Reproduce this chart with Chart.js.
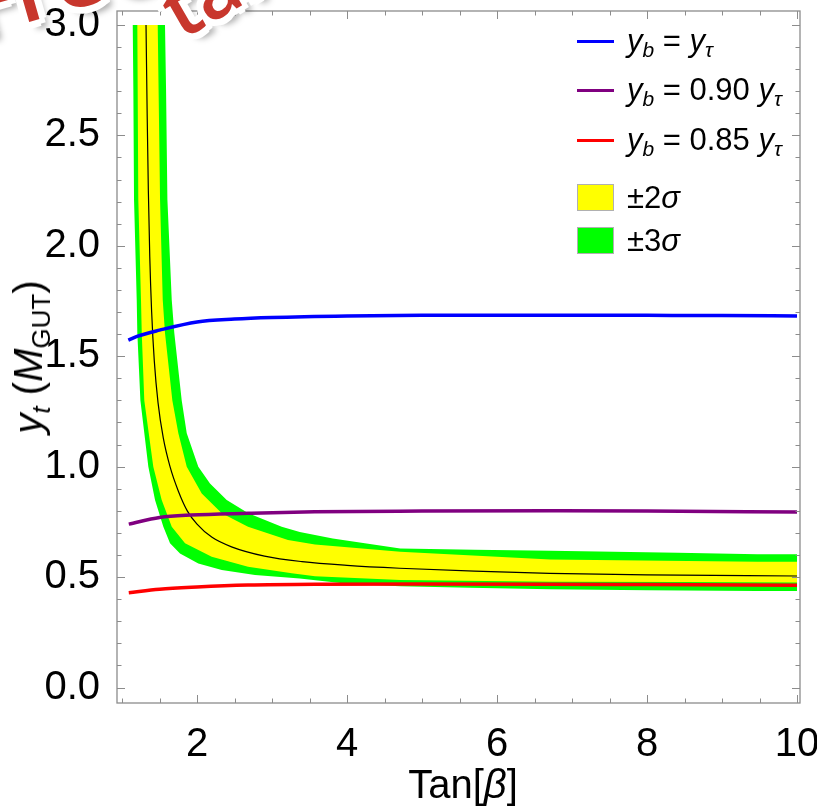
<!DOCTYPE html>
<html><head><meta charset="utf-8">
<script src="https://cdn.jsdelivr.net/npm/chart.js@4/dist/chart.umd.min.js"></script>
<style>
html,body{margin:0;padding:0;background:#fff;}
#wrap{position:relative;width:817px;height:808px;overflow:hidden;background:#fff;}
#c{position:absolute;left:0;top:0;}
.t{position:absolute;font-family:"Liberation Sans",Arial,sans-serif;color:#000;white-space:nowrap;line-height:1;}
.leg{font-size:31px;}
.leg sub{font-size:21px;vertical-align:-6px;}
.sw{position:absolute;}
.wm{position:absolute;font-family:"Open Sans","Liberation Sans",sans-serif;font-weight:600;color:#c8372d;white-space:nowrap;line-height:1;
 text-shadow:5px 0 #fff,-5px 0 #fff,0 5px #fff,0 -5px #fff,4px 4px #fff,-4px 4px #fff,4px -4px #fff,-4px -4px #fff,7px 0 #fff,-7px 0 #fff,0 7px #fff,0 -7px #fff,5px 5px #fff,-5px 5px #fff,5px -5px #fff,-5px -5px #fff,6px 9px 6px rgba(0,0,0,0.35);}
</style></head>
<body>
<div id="wrap">
<canvas id="c" width="817" height="808"></canvas>
<div class="wm" style="left:-22px;top:-44px;font-size:92px;transform:rotate(-16deg);transform-origin:0 100%;">Free</div>
<div class="wm" style="left:186px;top:-30px;font-size:78px;transform:rotate(-30deg);transform-origin:0 100%;">tan</div>

<div class="t" id="ytitle" style="left:31px;top:357px;font-size:40px;transform:translate(-50%,-50%) rotate(-90deg);"><i>y</i><sub style="font-size:26px;vertical-align:-8px;"><i>t</i></sub>&nbsp;(<i>M</i><sub style="font-size:26px;vertical-align:-8px;">GUT</sub>)</div>
<div class="t" id="xtitle" style="left:463px;top:784px;font-size:40px;transform:translate(-50%,-50%);">Tan[<i>β</i>]</div>

<div class="sw" style="left:577px;top:40px;width:37px;height:3px;background:#0000ff;"></div>
<div class="sw" style="left:577px;top:89px;width:37px;height:3px;background:#800080;"></div>
<div class="sw" style="left:577px;top:139px;width:37px;height:3px;background:#ff0000;"></div>
<div class="sw" style="left:577px;top:184px;width:35px;height:25px;background:#ffff00;border:1px solid #b0b0b0;"></div>
<div class="sw" style="left:577px;top:227px;width:35px;height:25px;background:#00ff00;border:1px solid #b0b0b0;"></div>
<div class="t leg" style="left:627px;top:25px;"><i>y</i><sub><i>b</i></sub> = <i>y</i><sub><i>τ</i></sub></div>
<div class="t leg" style="left:627px;top:74px;"><i>y</i><sub><i>b</i></sub> = 0.90 <i>y</i><sub><i>τ</i></sub></div>
<div class="t leg" style="left:627px;top:124px;"><i>y</i><sub><i>b</i></sub> = 0.85 <i>y</i><sub><i>τ</i></sub></div>
<div class="t leg" style="left:627px;top:182px;">±2<i>σ</i></div>
<div class="t leg" style="left:627px;top:225px;">±3<i>σ</i></div>
</div>
<script>
// ---- data ----
const blueX   = [1.084, 1.2, 1.5, 2.0, 2.5, 3.0, 4.0, 5.0, 6.0, 7.0, 8.0, 9.0, 10.0];
const blueY   = [1.573, 1.590, 1.618, 1.655, 1.668, 1.675, 1.682, 1.685, 1.686, 1.686, 1.685, 1.684, 1.682];
const purpleX = [1.09, 1.5, 1.92, 2.68, 3.57, 5.0, 6.7, 8.0, 10.0];
const purpleY = [0.740, 0.770, 0.781, 0.789, 0.796, 0.799, 0.800, 0.799, 0.795];
const redX    = [1.09, 1.5, 2.0, 2.68, 3.57, 5.0, 6.7, 8.0, 10.0];
const redY    = [0.429, 0.445, 0.455, 0.464, 0.468, 0.469, 0.468, 0.466, 0.463];
const centralX = [1.32, 1.335, 1.351, 1.37, 1.395, 1.43, 1.48, 1.55, 1.64, 1.75, 1.87, 2.0, 2.2, 2.46, 2.9, 3.4, 4.0, 4.7, 5.7, 6.7, 8.0, 10.0];
const centralY = [3.0, 2.6, 2.25, 1.95, 1.70, 1.48, 1.29, 1.13, 1.0, 0.89, 0.80, 0.74, 0.68, 0.637, 0.595, 0.570, 0.553, 0.540, 0.527, 0.517, 0.510, 0.505];
// ±2σ band edges
const lower2X = [1.204, 1.217, 1.253, 1.263, 1.297, 1.417, 1.529, 1.663, 1.84, 2.196, 2.68, 3.263, 3.573, 4.71, 6.71, 8.5, 10.0];
const lower2Y = [3.0, 2.21, 1.754, 1.605, 1.30, 1.0, 0.849, 0.728, 0.653, 0.592, 0.547, 0.517, 0.504, 0.487, 0.479, 0.478, 0.476];
const upper2X = [1.476, 1.507, 1.543, 1.573, 1.671, 1.751, 1.863, 2.063, 2.33, 2.68, 3.213, 3.573, 4.71, 6.71, 7.6, 9.47, 10.0];
const upper2Y = [3.0, 2.21, 1.754, 1.605, 1.30, 1.151, 1.0, 0.879, 0.789, 0.728, 0.668, 0.648, 0.615, 0.580, 0.576, 0.570, 0.569];
// ±3σ band edges
const lower3X = [1.143, 1.151, 1.16, 1.196, 1.204, 1.245, 1.351, 1.44, 1.551, 1.64, 1.773, 2.017, 2.33, 2.773, 3.37, 4.0, 4.71, 5.64, 6.71, 8.0, 9.47, 10.0];
const lower3Y = [3.0, 2.71, 2.21, 1.754, 1.605, 1.30, 1.0, 0.849, 0.728, 0.653, 0.607, 0.562, 0.532, 0.509, 0.494, 0.470, 0.459, 0.452, 0.445, 0.441, 0.437, 0.437];
const upper3X = [1.573, 1.587, 1.605, 1.663, 1.697, 1.796, 1.863, 2.017, 2.173, 2.396, 2.684, 3.129, 3.37, 3.81, 4.71, 5.7, 6.71, 8.41, 9.47, 10.0];
const upper3Y = [3.0, 2.71, 2.21, 1.754, 1.605, 1.30, 1.151, 1.0, 0.924, 0.849, 0.789, 0.728, 0.704, 0.675, 0.630, 0.624, 0.619, 0.610, 0.604, 0.604];
// axis ranges / ticks
const xRange = [0.933, 10.04];
const yRange = [-0.07, 3.063];
const xMajor = 2, xMinor = 0.5;
const yMajor = 0.5, yMinor = 0.1;

const zip = (xs, ys) => xs.map((x, i) => ({x, y: ys[i]}));
const band = (lx, ly, ux, uy) => zip(lx, ly).concat(zip(ux, uy).reverse());
const isMult = (v, m) => Math.abs(v / m - Math.round(v / m)) < 1e-6;

const FONT = '"Liberation Sans",Arial,sans-serif';

const framePlugin = {
  id: 'frame',
  afterDatasetsDraw(chart) {
    const {ctx, chartArea: a, scales: {x, y}} = chart;
    ctx.save();
    ctx.strokeStyle = '#8c8c8c';
    ctx.lineWidth = 1.3;
    ctx.strokeRect(a.left, a.top, a.right - a.left, a.bottom - a.top);
    ctx.lineWidth = 1;
    ctx.beginPath();
    x.ticks.forEach(t => {
      const p = Math.round(x.getPixelForValue(t.value)) + 0.5;
      const L = isMult(t.value, xMajor) ? 8 : 4.5;
      ctx.moveTo(p, a.bottom); ctx.lineTo(p, a.bottom - L);
      ctx.moveTo(p, a.top); ctx.lineTo(p, a.top + L);
    });
    y.ticks.forEach(t => {
      const p = Math.round(y.getPixelForValue(t.value)) + 0.5;
      const L = isMult(t.value, yMajor) ? 8 : 4.5;
      ctx.moveTo(a.left, p); ctx.lineTo(a.left + L, p);
      ctx.moveTo(a.right, p); ctx.lineTo(a.right - L, p);
    });
    ctx.stroke();
    ctx.restore();
  }
};

new Chart(document.getElementById('c'), {
  type: 'line',
  data: {
    datasets: [
      {label: 'y_b = y_tau', data: zip(blueX, blueY), borderColor: '#0000ff', borderWidth: 3.5, pointRadius: 0, cubicInterpolationMode: 'monotone', fill: false},
      {label: 'y_b = 0.90 y_tau', data: zip(purpleX, purpleY), borderColor: '#800080', borderWidth: 3.5, pointRadius: 0, cubicInterpolationMode: 'monotone', fill: false},
      {label: 'y_b = 0.85 y_tau', data: zip(redX, redY), borderColor: '#ff0000', borderWidth: 3.5, pointRadius: 0, cubicInterpolationMode: 'monotone', fill: false},
      {label: 'central', data: zip(centralX, centralY), borderColor: '#000000', borderWidth: 1.2, pointRadius: 0, cubicInterpolationMode: 'monotone', fill: false},
      {label: '±2σ', data: band(lower2X, lower2Y, upper2X, upper2Y), borderColor: 'rgba(0,0,0,0)', borderWidth: 1, backgroundColor: '#ffff00', pointRadius: 0, tension: 0, fill: 'shape'},
      {label: '±3σ', data: band(lower3X, lower3Y, upper3X, upper3Y), borderColor: 'rgba(0,0,0,0)', borderWidth: 1, backgroundColor: '#00ff00', pointRadius: 0, tension: 0, fill: 'shape'}
    ]
  },
  options: {
    responsive: false,
    animation: false,
    events: [],
    layout: {padding: {left: 0, top: 11, right: 17, bottom: 0}},
    plugins: {legend: {display: false}, tooltip: {enabled: false}},
    scales: {
      x: {
        type: 'linear', min: xRange[0], max: xRange[1],
        grid: {display: false}, border: {display: false},
        ticks: {stepSize: xMinor, includeBounds: false, autoSkip: false, maxRotation: 0, padding: 10, color: '#000',
          font: {family: FONT, size: 40},
          callback: v => isMult(v, xMajor) ? String(Math.round(v)) : ''},
        afterFit(s) { s.height = 105; s.paddingLeft = 0; s.paddingRight = 0; }
      },
      y: {
        type: 'linear', min: yRange[0], max: yRange[1],
        grid: {display: false}, border: {display: false},
        ticks: {stepSize: yMinor, includeBounds: false, autoSkip: false, padding: 9, color: '#000',
          font: {family: FONT, size: 40},
          callback: v => isMult(v, yMajor) ? v.toFixed(1) : ''},
        afterFit(s) { s.width = 117; s.paddingTop = 0; s.paddingBottom = 0; }
      }
    }
  },
  plugins: [framePlugin]
});
</script>
</body></html>
